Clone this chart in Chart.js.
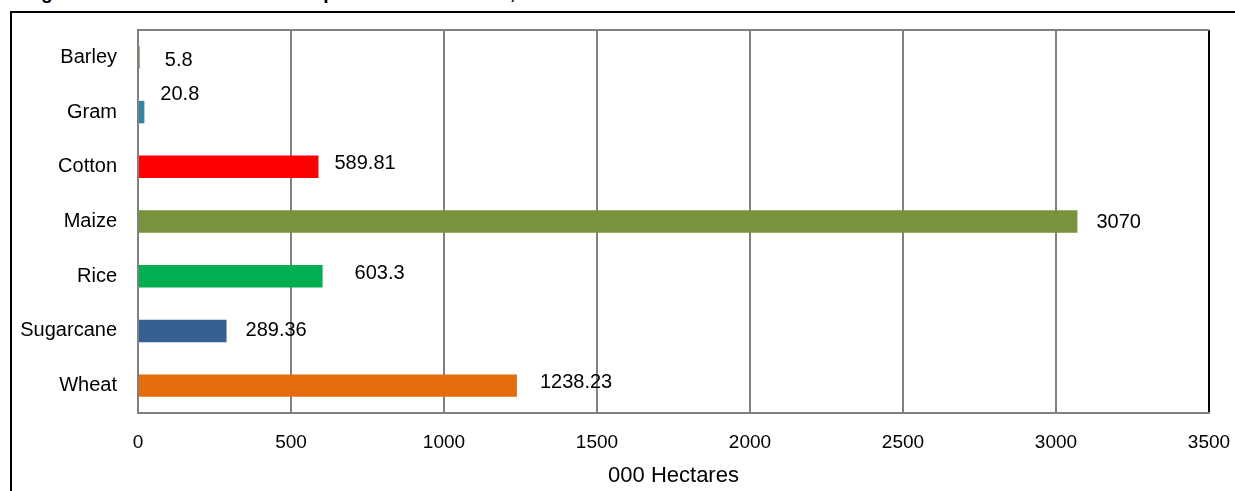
<!DOCTYPE html>
<html>
<head>
<meta charset="utf-8">
<script src="https://cdn.jsdelivr.net/npm/chart.js@4/dist/chart.umd.min.js"></script>
<style>
  html, body { margin: 0; padding: 0; background: #fff; overflow: hidden; }
  #wrap { position: relative; width: 1235px; height: 491px; }
  #frame { position: absolute; left: 10px; top: 11px; width: 1400px; height: 700px; border: 2px solid #000; }
  #cut-title {
    position: absolute; left: 24px; top: -17px; margin: 0;
    font: bold 19px "Liberation Sans", Arial, sans-serif; line-height: 19px; white-space: nowrap;
  }
  #crop-chart { position: absolute; left: 0; top: 0; }
</style>
</head>
<body>
<div id="wrap">
  <p id="cut-title">Figure 4: Area Sown under Principal Cereals &amp; Cotton, 2020-21</p>
  <div id="frame"></div>
  <canvas id="crop-chart" width="1235" height="491"></canvas>
</div>
<script>
// crops, top to bottom
const crops = ["Barley", "Gram", "Cotton", "Maize", "Rice", "Sugarcane", "Wheat"];
// area in 000 hectares
const areas = [5.8, 20.8, 589.81, 3070, 603.3, 289.36, 1238.23];
const barColors = ["#948a54", "#31859c", "#ff0000", "#77933c", "#00b050", "#376092", "#e46c0a"];
const xTicks = [0, 500, 1000, 1500, 2000, 2500, 3000, 3500];

const FONT = "'Liberation Sans', Arial, sans-serif";

// value labels sit just right of each bar (hand nudged like the original)
const valueLabels = {
  id: "valueLabels",
  afterDatasetsDraw(chart, args, opts) {
    const { ctx } = chart;
    const meta = chart.getDatasetMeta(0);
    ctx.save();
    ctx.font = `20px ${FONT}`;
    ctx.fillStyle = "#000";
    ctx.textBaseline = "middle";
    ctx.textAlign = "left";
    meta.data.forEach((bar, i) => {
      const n = opts.nudge[crops[i]] || [0, 0];
      ctx.fillText(String(areas[i]), bar.x + 18 + n[0], bar.y + n[1]);
    });
    ctx.restore();
  }
};

// top edge of plot area
const plotTop = {
  id: "plotTop",
  afterDraw(chart) {
    const { ctx, chartArea: a } = chart;
    ctx.save();
    ctx.strokeStyle = "#808080";
    ctx.lineWidth = 2;
    ctx.beginPath();
    ctx.moveTo(a.left, a.top);
    ctx.lineTo(a.right, a.top);
    ctx.stroke();
    ctx.restore();
  }
};

new Chart(document.getElementById("crop-chart").getContext("2d"), {
  type: "bar",
  data: {
    labels: crops,
    datasets: [{
      data: areas,
      backgroundColor: barColors,
      borderWidth: 0,
      barPercentage: 0.41,
      categoryPercentage: 1
    }]
  },
  options: {
    indexAxis: "y",
    responsive: false,
    animation: false,
    devicePixelRatio: 1,
    layout: { padding: { top: 30, right: 26, left: 0, bottom: 0 } },
    plugins: {
      legend: { display: false },
      tooltip: { enabled: false },
      valueLabels: {
        nudge: {
          Barley: [7, 3], Gram: [-2, -18], Cotton: [-2, -3], Maize: [1, 1],
          Rice: [14, -3], Sugarcane: [1, 0], Wheat: [5, -3]
        }
      }
    },
    scales: {
      x: {
        min: 0,
        max: 3500,
        afterBuildTicks: (scale) => { scale.ticks = xTicks.map(v => ({ value: v })); },
        afterFit: (scale) => {
          scale.height = 78;
          scale.paddingLeft = 0;
          scale.paddingRight = 0;
        },
        grid: {
          drawTicks: false,
          lineWidth: 2,
          color: (c) => (c.tick && c.tick.value === 3500 ? "#000" : "#808080")
        },
        border: { color: "#808080", width: 2 },
        ticks: {
          color: "#000",
          padding: 18,
          font: { family: FONT, size: 19 },
          callback: (v) => String(v)
        },
        title: {
          display: true,
          text: "000 Hectares",
          color: "#000",
          padding: { top: 0, bottom: 2 },
          font: { family: FONT, size: 22 }
        }
      },
      y: {
        afterFit: (scale) => {
          scale.width = 138;
          scale.paddingTop = 0;
          scale.paddingBottom = 0;
        },
        grid: { display: false, drawTicks: false },
        border: { color: "#808080", width: 2 },
        ticks: { color: "#000", padding: 21, font: { family: FONT, size: 20 } }
      }
    }
  },
  plugins: [valueLabels, plotTop]
});
</script>
</body>
</html>
